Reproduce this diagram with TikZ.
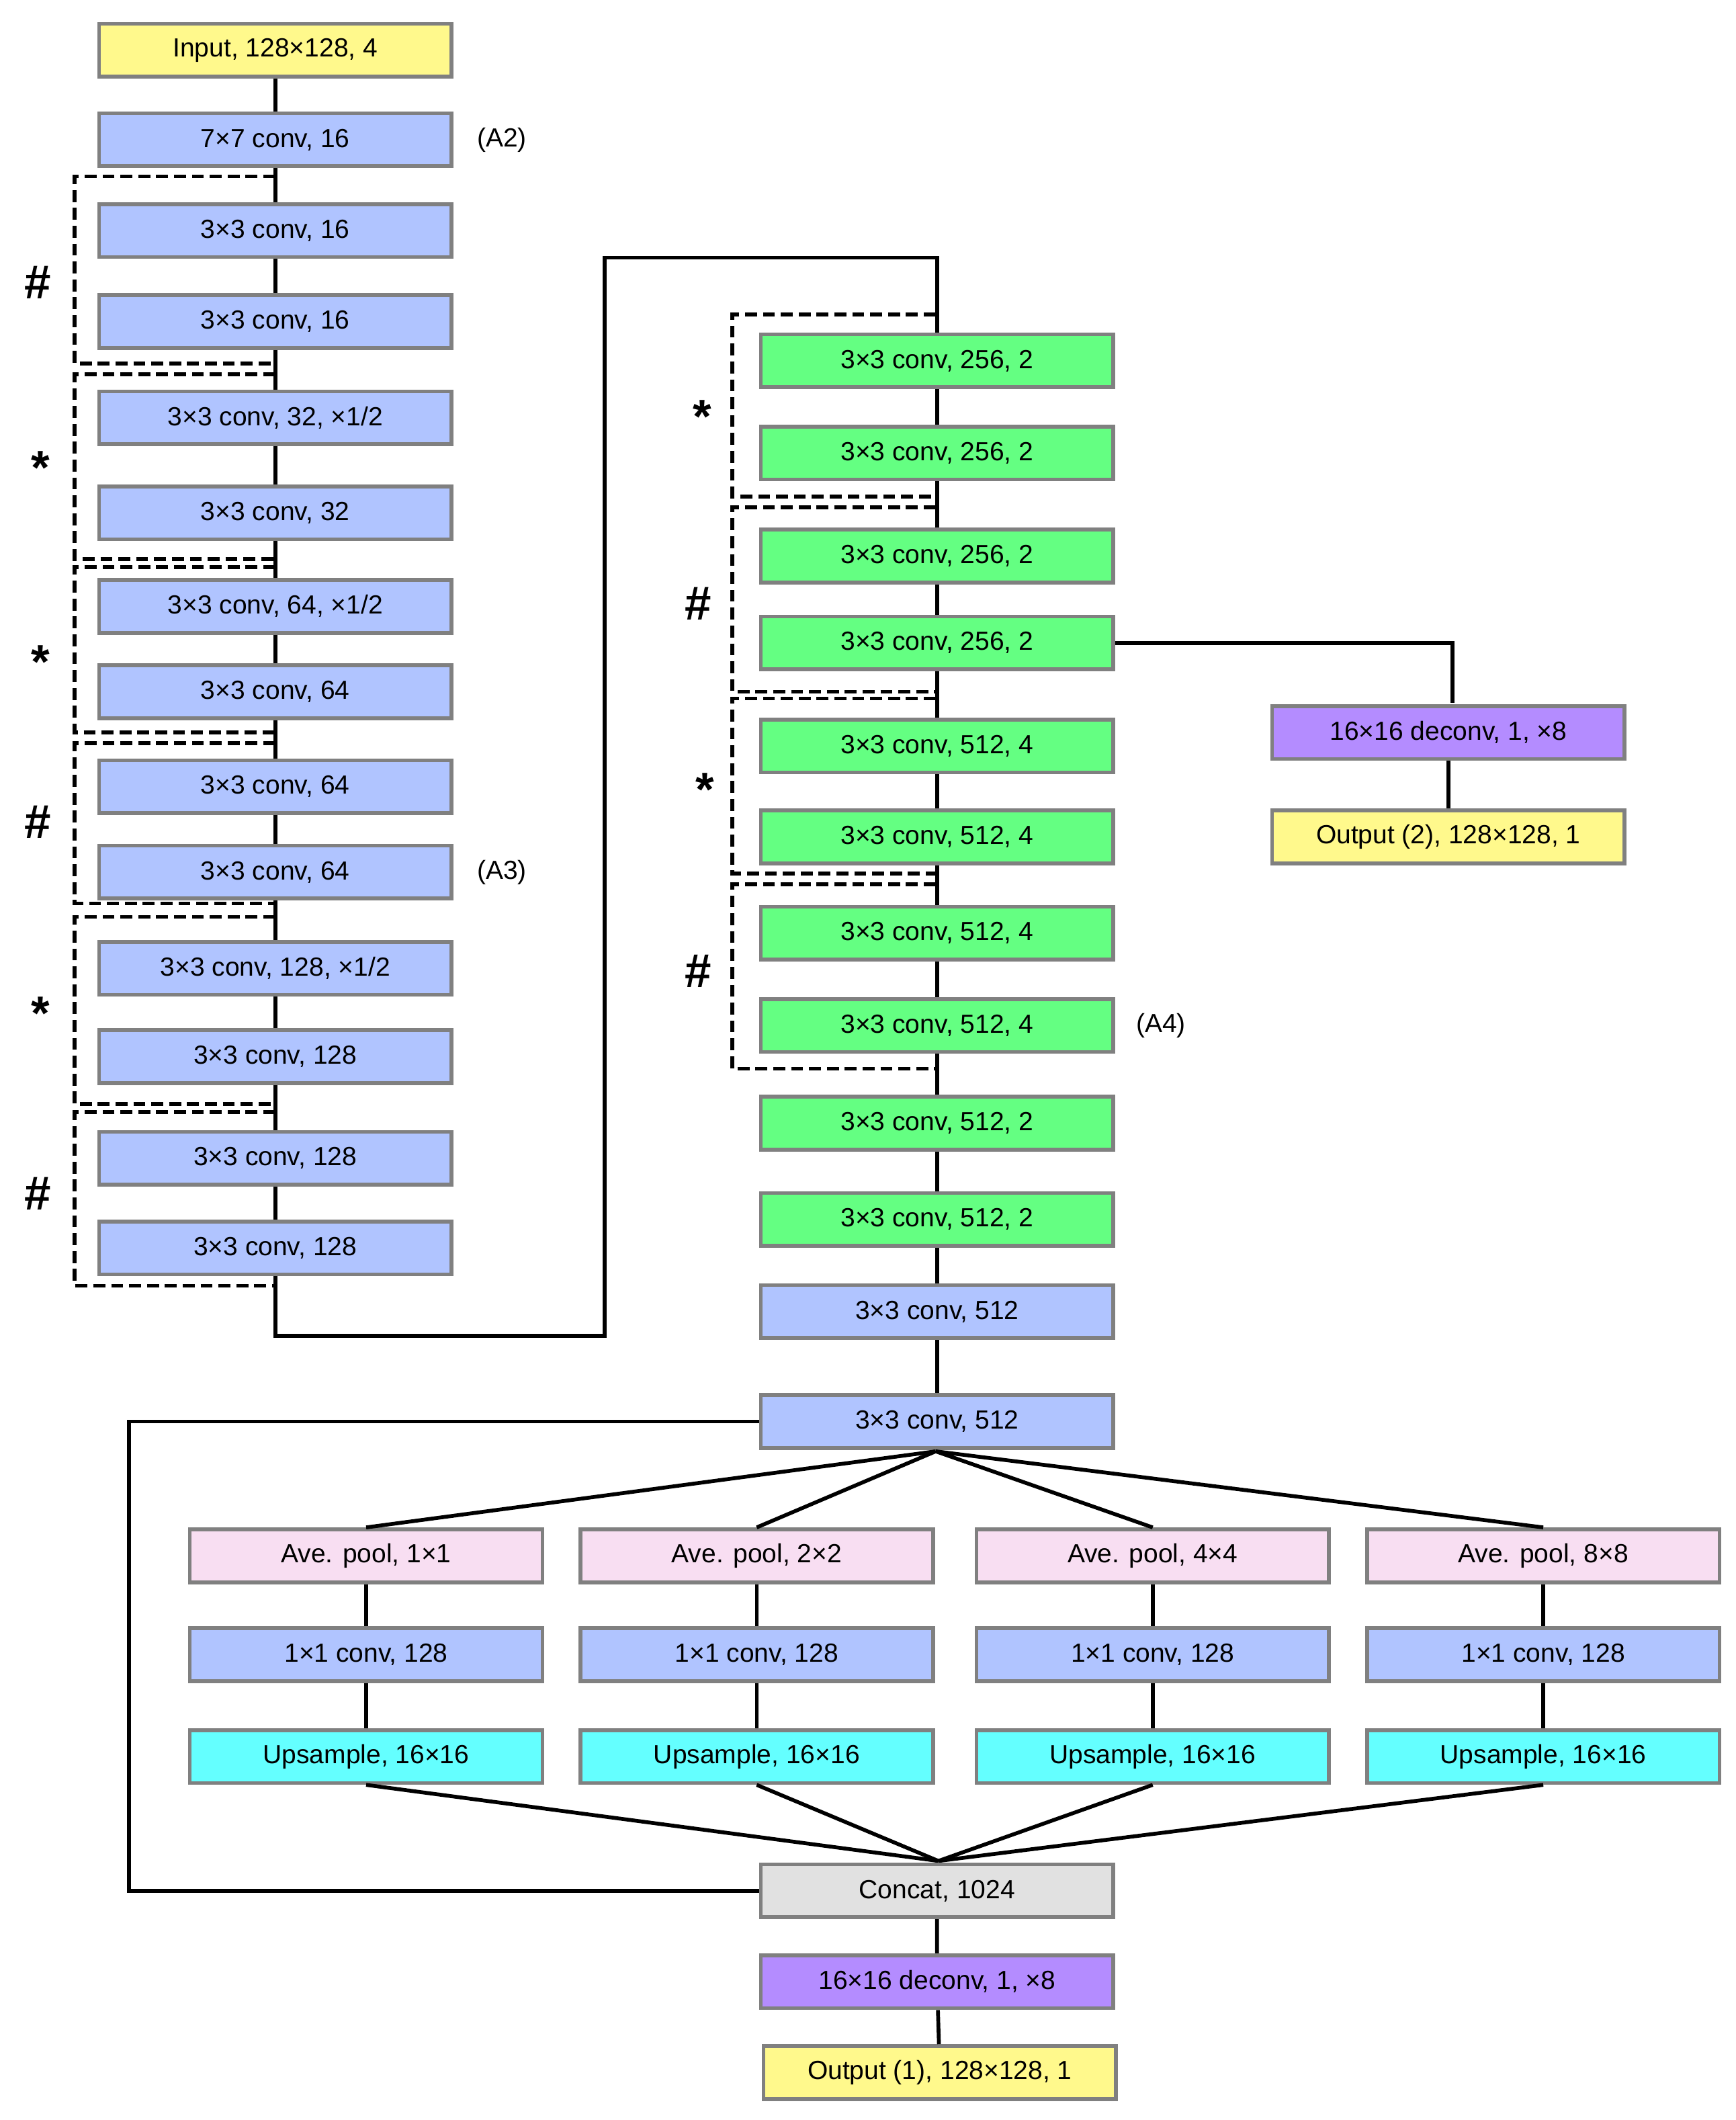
\documentclass[tikz,border=0pt]{standalone}
\usepackage{fontspec}
\setmainfont{Liberation Sans}
\begin{document}
\begin{tikzpicture}[x=0.02cm,y=-0.02cm,
 bx/.style={draw=black!50,line width=1.6pt,minimum width=5.2cm,minimum height=0.78cm,inner sep=0pt,font=\fontsize{11}{13}\selectfont},
 yel/.style={bx,fill=yellow!45},
 blu/.style={bx,fill=blue!20!cyan!10!white,fill={rgb,255:red,176;green,196;blue,255}},
 grn/.style={bx,fill={rgb,255:red,100;green,255;blue,130}},
 pur/.style={bx,fill={rgb,255:red,180;green,140;blue,255}},
 pnk/.style={bx,fill={rgb,255:red,248;green,222;blue,242}},
 cyn/.style={bx,fill={rgb,255:red,100;green,255;blue,255}},
 gry/.style={bx,fill={rgb,255:red,225;green,225;blue,225}},
 ln/.style={line width=1.6pt},
 dsh/.style={line width=1.6pt,dash pattern=on 5pt off 2.5pt},
 sym/.style={font=\fontsize{20}{22}\selectfont\bfseries},
 lbl/.style={font=\fontsize{11}{13}\selectfont}]
\useasboundingbox (0,0) rectangle (1280,1563);
% left column
\node[yel] (i) at (203,37) {Input, 128×128, 4};
\node[blu] (l1) at (203,103) {7×7 conv, 16};
\node[blu] (l2) at (203,170) {3×3 conv, 16};
\node[blu] (l3) at (203,237) {3×3 conv, 16};
\node[blu] (l4) at (203,308) {3×3 conv, 32, ×1/2};
\node[blu] (l5) at (203,378) {3×3 conv, 32};
\node[blu] (l6) at (203,447) {3×3 conv, 64, ×1/2};
\node[blu] (l7) at (203,510) {3×3 conv, 64};
\node[blu] (l8) at (203,580) {3×3 conv, 64};
\node[blu] (l9) at (203,643) {3×3 conv, 64};
\node[blu] (l10) at (203,714) {3×3 conv, 128, ×1/2};
\node[blu] (l11) at (203,779) {3×3 conv, 128};
\node[blu] (l12) at (203,854) {3×3 conv, 128};
\node[blu] (l13) at (203,920) {3×3 conv, 128};
\node[lbl] (a2) at (370,103) {(A2)};
\node[lbl] (a3) at (370,643) {(A3)};
\draw[ln] (i)--(l1)--(l2)--(l3)--(l4)--(l5)--(l6)--(l7)--(l8)--(l9)--(l10)--(l11)--(l12)--(l13);
% right column
\node[grn] (r1) at (691,266) {3×3 conv, 256, 2};
\node[grn] (r2) at (691,334) {3×3 conv, 256, 2};
\node[grn] (r3) at (691,410) {3×3 conv, 256, 2};
\node[grn] (r4) at (691,474) {3×3 conv, 256, 2};
\node[grn] (r5) at (691,550) {3×3 conv, 512, 4};
\node[grn] (r6) at (691,617) {3×3 conv, 512, 4};
\node[grn] (r7) at (691,688) {3×3 conv, 512, 4};
\node[grn] (r8) at (691,756) {3×3 conv, 512, 4};
\node[grn] (r9) at (691,828) {3×3 conv, 512, 2};
\node[grn] (r10) at (691,899) {3×3 conv, 512, 2};
\node[blu] (r11) at (691,967) {3×3 conv, 512};
\node[blu] (r12) at (691,1048) {3×3 conv, 512};
\node[lbl] (a4) at (856,756) {(A4)};
\draw[ln] (r1)--(r2)--(r3)--(r4)--(r5)--(r6)--(r7)--(r8)--(r9)--(r10)--(r11)--(r12);
\draw[ln] (l13.south) -- (203,985) -- (446,985) -- (446,190) -- (691,190) -- (r1.north);
% branch 2
\node[pur] (d2) at (1068,540) {16×16 deconv, 1, ×8};
\node[yel] (o2) at (1068,617) {Output (2), 128×128, 1};
\draw[ln] (r4.east) -- (1071,474) -- (1071,518);
\draw[ln] (d2)--(o2);
% dashed groups left
\draw[dsh] (203,130) -- (55,130) -- (55,268) -- (203,268);
\draw[dsh] (203,276) -- (55,276) -- (55,412) -- (203,412);
\draw[dsh] (203,418) -- (55,418) -- (55,540) -- (203,540);
\draw[dsh] (203,548) -- (55,548) -- (55,666) -- (203,666);
\draw[dsh] (203,676) -- (55,676) -- (55,814) -- (203,814);
\draw[dsh] (203,820) -- (55,820) -- (55,948) -- (203,948);
% dashed groups right
\draw[dsh] (690,232) -- (540,232) -- (540,366) -- (690,366);
\draw[dsh] (690,374) -- (540,374) -- (540,510) -- (690,510);
\draw[dsh] (690,515) -- (540,515) -- (540,644) -- (690,644);
\draw[dsh] (690,652) -- (540,652) -- (540,788) -- (690,788);
% symbols
\node[sym] (s1) at (28,208) {\#};
\node[sym] (s2) at (30,345) {*};
\node[sym] (s3) at (30,488) {*};
\node[sym] (s4) at (28,606) {\#};
\node[sym] (s5) at (30,747) {*};
\node[sym] (s6) at (28,880) {\#};
\node[sym] (s7) at (518,307) {*};
\node[sym] (s8) at (515,445) {\#};
\node[sym] (s9) at (520,582) {*};
\node[sym] (s10) at (515,716) {\#};
% pooling
\coordinate (hub) at (690,1070);
\coordinate (cin) at (692,1372);
\foreach \n/\x/\k in {1/270/1×1,2/558/2×2,3/850/4×4,4/1138/8×8}{
 \node[pnk] (p\n) at (\x,1147) {Ave. pool, \k};
 \node[blu] (c\n) at (\x,1220) {1×1 conv, 128};
 \node[cyn] (u\n) at (\x,1295) {Upsample, 16×16};
 \draw[ln] (hub) -- (p\n.north);
 \draw[ln] (p\n)--(c\n)--(u\n);
 \draw[ln] (u\n.south) -- (cin);
}
\node[gry] (cc) at (691,1394) {Concat, 1024};
\node[pur] (d1) at (691,1461) {16×16 deconv, 1, ×8};
\node[yel] (o1) at (693,1528) {Output (1), 128×128, 1};
\draw[ln] (cc)--(d1)--(o1);
\draw[ln] (r12.west) -- (95,1048) -- (95,1394) -- (cc.west);
\end{tikzpicture}
\end{document}
